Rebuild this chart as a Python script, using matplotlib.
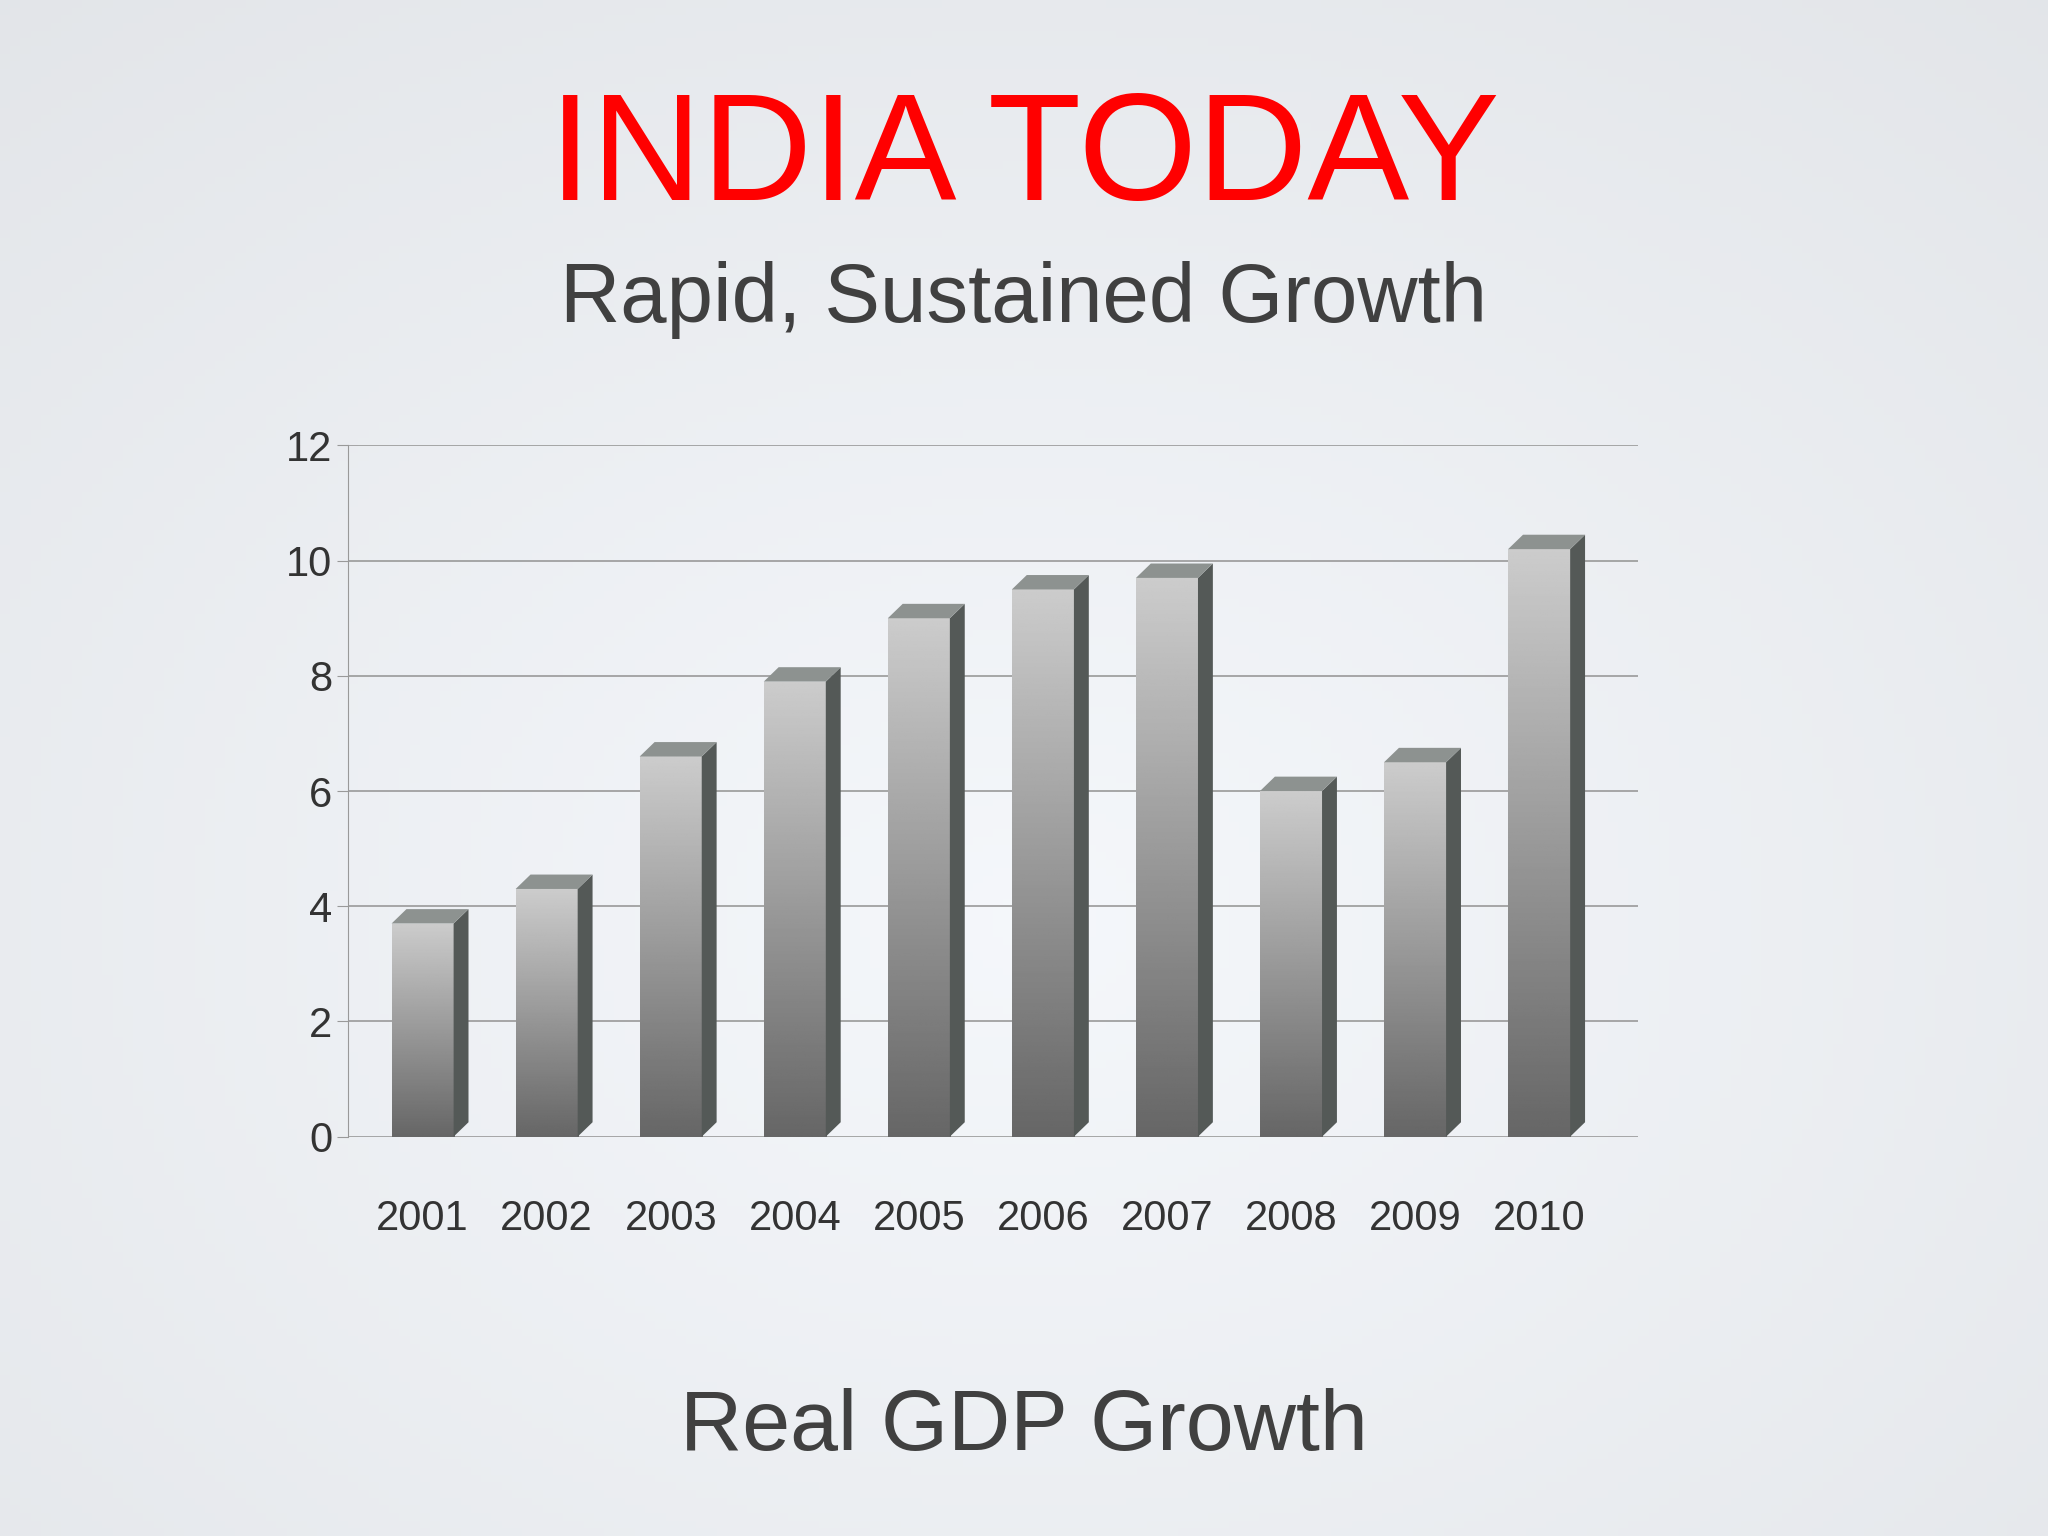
import matplotlib
matplotlib.use("Agg")
import matplotlib.pyplot as plt
import numpy as np
from matplotlib.patches import Polygon, Rectangle

years = ["2001","2002","2003","2004","2005","2006","2007","2008","2009","2010"]
growth = [3.7, 4.3, 6.6, 7.9, 9.0, 9.5, 9.7, 6.0, 6.5, 10.2]
yticks = [0, 2, 4, 6, 8, 10, 12]

plt.rcParams['font.family'] = ['Liberation Sans', 'DejaVu Sans']
fig = plt.figure(figsize=(20.48, 15.36), dpi=100)
bg = fig.add_axes([0, 0, 1, 1]); bg.axis("off")
yy, xx = np.mgrid[0:1:200j, 0:1:200j]
r = np.sqrt((xx-0.5)**2 + (yy-0.6)**2)
base = np.clip(0.975 - 0.09*r, 0, 1)
img = np.dstack([base-0.015, base-0.005, base+0.01]).clip(0, 1)
bg.imshow(img, extent=[0,1,0,1], aspect="auto")
bg.set_xlim(0,1); bg.set_ylim(0,1)

fig.text(0.5, 0.895, "INDIA TODAY", color="#ff0000", fontsize=110, ha="center", va="center")
fig.text(0.5, 0.805, "Rapid, Sustained Growth", color="#404040", fontsize=60, ha="center", va="center")
fig.text(0.5, 0.07, "Real GDP Growth", color="#404040", fontsize=62, ha="center", va="center")

ax = fig.add_axes([0.17, 0.26, 0.63, 0.45])
ax.patch.set_alpha(0)
ax.set_yticks(yticks)
ax.yaxis.grid(True, color="#999999", lw=1.2)
ax.set_axisbelow(True)
for s in ["top","right","bottom"]:
    ax.spines[s].set_visible(False)
ax.spines["left"].set_color("#999999")
ax.tick_params(axis="y", labelsize=30, colors="#333333", length=8, color="#999999")
ax.set_xticks(range(len(years)))
ax.set_xticklabels(years, fontsize=30, color="#333333")
ax.tick_params(axis="x", length=0, pad=45)

grad = np.linspace(0.40, 0.80, 256).reshape(-1, 1)
w = 0.5; d = 0.12
for i, v in enumerate(growth):
    x0 = i - w/2
    im = ax.imshow(grad, cmap="gray", vmin=0, vmax=1, extent=[x0, x0+w, 0, v],
                   aspect="auto", origin="lower", zorder=3)
    rect = Rectangle((x0, 0), w, v, transform=ax.transData, fc="none", ec="none")
    ax.add_patch(rect); im.set_clip_path(rect)
    ax.add_patch(Polygon([[x0+w, 0], [x0+w+d, 0.25], [x0+w+d, v+0.25], [x0+w, v]],
                         fc="#545957", ec="none", zorder=3))
    ax.add_patch(Polygon([[x0, v], [x0+d, v+0.25], [x0+w+d, v+0.25], [x0+w, v]],
                         fc="#8d9290", ec="none", zorder=3))
ax.set_xlim(-0.6, 9.8)
ax.set_ylim(0, 12)
fig.savefig("out.png", dpi=100)
